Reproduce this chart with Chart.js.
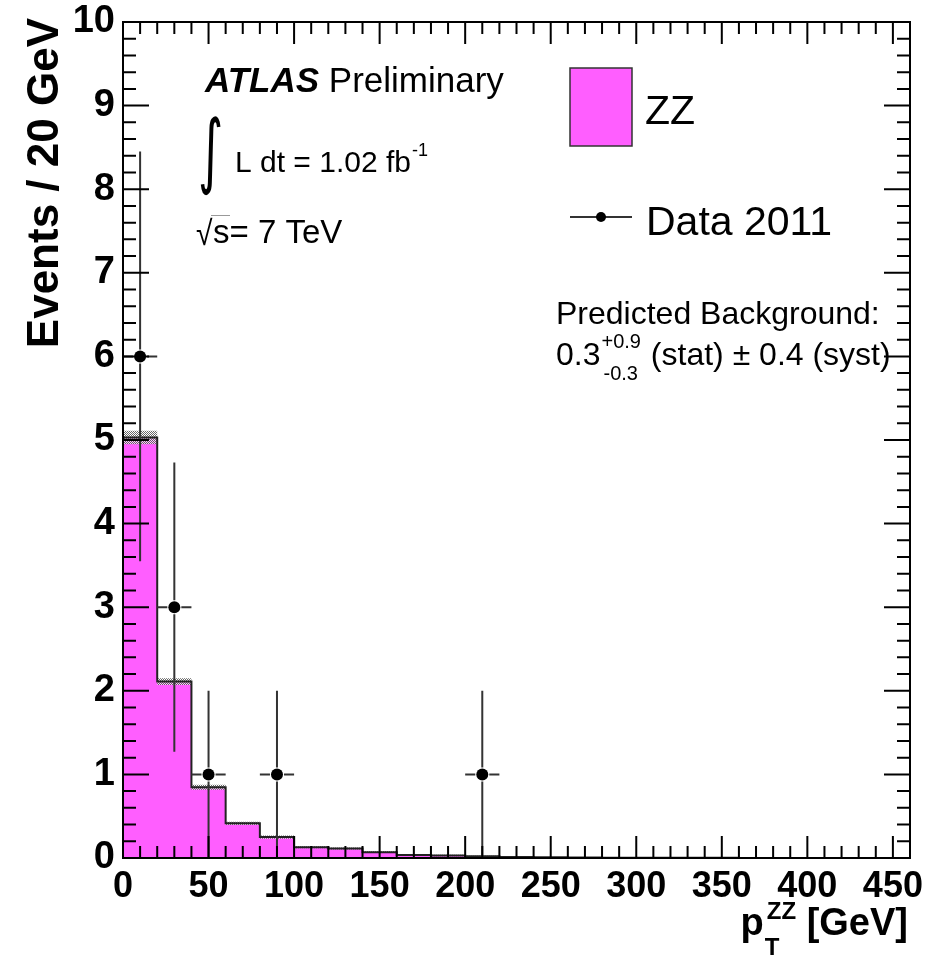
<!DOCTYPE html>
<html>
<head>
<meta charset="utf-8">
<script src="https://cdn.jsdelivr.net/npm/chart.js@4.4.0/dist/chart.umd.min.js"></script>
<style>
  html, body { margin: 0; padding: 0; background: #fff; }
</style>
</head>
<body>
<canvas id="chart" width="940" height="959"></canvas>
<script>
// 20 GeV bins, lower edges plus the last upper edge
const binEdges = [0, 20, 40, 60, 80, 100, 120, 140, 160, 180, 200, 220, 240, 260, 280, 300, 320, 340, 360, 380, 400, 420, 440, 460];
// ZZ expectation per bin and its stat uncertainty (grey band)
const zzYield = [5.03, 2.11, 0.845, 0.415, 0.25, 0.13, 0.115, 0.07, 0.035, 0.03, 0.02, 0.012, 0.008, 0.006, 0.004, 0.003, 0.002, 0.002, 0.001, 0.001, 0.001, 0.0, 0.0];
const zzStatErr = [0.08, 0.04, 0.03, 0.02, 0.02, 0.012, 0.012, 0.01, 0.008, 0.008, 0.006, 0.005, 0.004, 0.003, 0.002, 0.002, 0.001, 0.001, 0.001, 0.001, 0.001, 0.0, 0.0];
// Data 2011
const dataX = [10, 30, 50, 90, 210];
const dataY = [6, 3, 1, 1, 1];
const dataErrUp = [2.45, 1.73, 1, 1, 1];
const dataErrDown = [2.45, 1.73, 1, 1, 1];
const dataHalfWidth = 10;
// axis labels
const xTickValues = [0, 50, 100, 150, 200, 250, 300, 350, 400, 450];
const yTickValues = [0, 1, 2, 3, 4, 5, 6, 7, 8, 9, 10];

const SANS = '"Liberation Sans", Arial, Helvetica, sans-serif';
const ZZ_COLOR = '#ff5eff';

// step points for a histogram: one point per lower edge + closing edge
const stepPts = vals => binEdges.map((e, i) => ({ x: e, y: vals[Math.min(i, vals.length - 1)] }));

// grey hatch for the stat band
const makeHatch = () => {
    const c = document.createElement('canvas');
    c.width = 4; c.height = 4;
    const g = c.getContext('2d');
    g.fillStyle = 'rgba(255,255,255,0.6)';
    g.fillRect(0, 0, 4, 4);
    g.fillStyle = '#666';
    g.fillRect(0, 0, 1, 1); g.fillRect(2, 0, 1, 1);
    g.fillRect(1, 1, 1, 1); g.fillRect(3, 1, 1, 1);
    g.fillRect(0, 2, 1, 1); g.fillRect(2, 2, 1, 1);
    g.fillRect(1, 3, 1, 1); g.fillRect(3, 3, 1, 1);
    return g.createPattern(c, 'repeat');
};

// ROOT style frame, inner ticks, error bars and the text boxes
const rootStyle = {
    id: 'rootStyle',
    afterDatasetsDraw(chart) {
        const { ctx, scales: { x, y } } = chart;
        ctx.save();
        ctx.strokeStyle = '#333';
        ctx.lineWidth = 2;
        const gap = 7;
        dataX.forEach((xv, i) => {
            const px = x.getPixelForValue(xv);
            const py = y.getPixelForValue(dataY[i]);
            const top = y.getPixelForValue(dataY[i] + dataErrUp[i]);
            const bot = y.getPixelForValue(dataY[i] - dataErrDown[i]);
            const l = x.getPixelForValue(xv - dataHalfWidth);
            const r = x.getPixelForValue(xv + dataHalfWidth);
            ctx.beginPath();
            ctx.moveTo(px, top); ctx.lineTo(px, py - gap);
            ctx.moveTo(px, py + gap); ctx.lineTo(px, bot);
            ctx.moveTo(l, py); ctx.lineTo(px - gap, py);
            ctx.moveTo(px + gap, py); ctx.lineTo(r, py);
            ctx.stroke();
        });
        ctx.restore();
    },
    afterDraw(chart) {
        const { ctx, chartArea: a, scales: { x, y } } = chart;
        ctx.save();
        ctx.strokeStyle = '#000';
        ctx.lineWidth = 2;
        ctx.strokeRect(a.left, a.top, a.right - a.left, a.bottom - a.top);

        // ticks inside the frame on all four sides
        ctx.beginPath();
        for (let v = 10; v < 460; v += 10) {
            const px = x.getPixelForValue(v);
            const len = v % 50 === 0 ? 22 : 12;
            ctx.moveTo(px, a.bottom); ctx.lineTo(px, a.bottom - len);
            ctx.moveTo(px, a.top); ctx.lineTo(px, a.top + len);
        }
        for (let k = 1; k < 50; k++) {
            const py = y.getPixelForValue(k * 0.2);
            const len = k % 5 === 0 ? 26 : 13;
            ctx.moveTo(a.left, py); ctx.lineTo(a.left + len, py);
            ctx.moveTo(a.right, py); ctx.lineTo(a.right - len, py);
        }
        ctx.stroke();

        ctx.fillStyle = '#000';
        ctx.textBaseline = 'alphabetic';
        ctx.textAlign = 'left';

        // y title
        ctx.save();
        ctx.translate(58, 18);
        ctx.rotate(-Math.PI / 2);
        ctx.textAlign = 'right';
        ctx.font = `bold 44px ${SANS}`;
        ctx.fillText('Events / 20 GeV', 0, 0);
        ctx.restore();

        // x title: p_T^ZZ [GeV], right aligned on the frame
        const bigF = `bold 38px ${SANS}`, smallF = `bold 24px ${SANS}`;
        ctx.font = bigF; const wP = ctx.measureText('p').width;
        const wG = ctx.measureText(' [GeV]').width;
        ctx.font = smallF; const wZ = ctx.measureText('ZZ').width;
        let tx = a.right - 2 - (wP + 3 + wZ + wG);
        const tb = 935;
        ctx.font = bigF; ctx.fillText('p', tx, tb);
        ctx.font = smallF;
        ctx.fillText('T', tx + wP + 1, tb + 20);
        ctx.fillText('ZZ', tx + wP + 3, tb - 16);
        ctx.font = bigF; ctx.fillText(' [GeV]', tx + wP + 3 + wZ, tb);

        // ATLAS Preliminary
        ctx.font = `italic bold 35px ${SANS}`;
        ctx.fillText('ATLAS', 205, 92);
        const wA = ctx.measureText('ATLAS ').width;
        ctx.font = `35px ${SANS}`;
        ctx.fillText('Preliminary', 205 + wA, 92);

        // integral L dt
        ctx.save();
        ctx.font = `44px "DejaVu Sans", ${SANS}`;
        ctx.translate(198, 178);
        ctx.scale(1.1, 1.85);
        ctx.fillText('\u222B', 0, 0);
        ctx.restore();
        ctx.font = `30px ${SANS}`;
        ctx.fillText('L dt = 1.02 fb', 235, 172);
        const wL = ctx.measureText('L dt = 1.02 fb').width;
        ctx.font = `18px ${SANS}`;
        ctx.fillText('-1', 235 + wL + 1, 156);

        // sqrt(s)
        ctx.save();
        ctx.font = `30px ${SANS}`;
        ctx.translate(196, 245);
        ctx.scale(1, 1.15);
        ctx.fillText('\u221A', 0, 0);
        ctx.restore();
        ctx.font = `33px ${SANS}`;
        ctx.fillText('s= 7 TeV', 213, 243);
        ctx.lineWidth = 1;
        ctx.strokeStyle = '#999';
        ctx.beginPath();
        ctx.moveTo(211, 215.5); ctx.lineTo(230, 215.5);
        ctx.stroke();

        // legend
        ctx.fillStyle = ZZ_COLOR;
        ctx.fillRect(570, 68, 62, 78);
        ctx.strokeStyle = '#333';
        ctx.lineWidth = 1.5;
        ctx.strokeRect(570, 68, 62, 78);
        ctx.fillStyle = '#000';
        ctx.font = `41px ${SANS}`;
        ctx.fillText('ZZ', 645, 124);
        ctx.lineWidth = 2;
        ctx.beginPath();
        ctx.moveTo(570, 217); ctx.lineTo(632, 217);
        ctx.stroke();
        ctx.beginPath();
        ctx.arc(601, 217, 5, 0, Math.PI * 2);
        ctx.fill();
        ctx.fillText('Data 2011', 646, 235);

        // background estimate
        ctx.font = `32px ${SANS}`;
        ctx.fillText('Predicted Background:', 556, 324);
        ctx.fillText('0.3', 556, 365);
        const w03 = ctx.measureText('0.3').width;
        ctx.font = `20px ${SANS}`;
        ctx.fillText('+0.9', 556 + w03 + 1, 348);
        ctx.fillText('-0.3', 556 + w03 + 3, 380);
        const wSup = ctx.measureText('+0.9').width;
        ctx.font = `32px ${SANS}`;
        ctx.fillText(' (stat) \u00B1 0.4 (syst)', 556 + w03 + wSup + 2, 365);

        ctx.restore();
    }
};

const tickFont = size => ({ family: SANS, size, weight: 'bold' });

new Chart(document.getElementById('chart'), {
    type: 'line',
    data: {
        datasets: [
            {
                data: stepPts(zzYield), stepped: true, fill: 'origin',
                backgroundColor: ZZ_COLOR, borderWidth: 0, pointRadius: 0, order: 4
            },
            {
                data: stepPts(zzYield.map((v, i) => v + zzStatErr[i])), stepped: true, fill: '+1',
                backgroundColor: makeHatch(), borderWidth: 0, pointRadius: 0, order: 3
            },
            {
                data: stepPts(zzYield.map((v, i) => Math.max(0, v - zzStatErr[i]))), stepped: true, fill: false,
                borderWidth: 0, pointRadius: 0, order: 3
            },
            {
                data: stepPts(zzYield), stepped: true, fill: false,
                borderColor: '#222', borderWidth: 2, pointRadius: 0, order: 2
            },
            {
                data: dataX.map((v, i) => ({ x: v, y: dataY[i] })), showLine: false,
                pointRadius: 6, pointBackgroundColor: '#000', pointBorderWidth: 0, order: 1
            }
        ]
    },
    options: {
        responsive: false,
        animation: false,
        devicePixelRatio: 1,
        layout: { padding: { top: 22, right: 30, left: 0, bottom: 0 } },
        plugins: { legend: { display: false }, tooltip: { enabled: false } },
        scales: {
            x: {
                type: 'linear', min: 0, max: 460,
                grid: { display: false, drawTicks: false }, border: { display: false },
                ticks: { maxRotation: 0, autoSkip: false, padding: 7, color: '#000', font: tickFont(36) },
                afterBuildTicks: s => { s.ticks = xTickValues.map(v => ({ value: v })); },
                afterFit: s => { s.height = 101; s.paddingLeft = 0; s.paddingRight = 0; }
            },
            y: {
                min: 0, max: 10,
                grid: { display: false, drawTicks: false }, border: { display: false },
                ticks: { padding: 8, color: '#000', font: tickFont(38) },
                afterBuildTicks: s => { s.ticks = yTickValues.map(v => ({ value: v })); },
                afterFit: s => { s.width = 123; s.paddingTop = 0; s.paddingBottom = 0; }
            }
        }
    },
    plugins: [rootStyle]
});
</script>
</body>
</html>
